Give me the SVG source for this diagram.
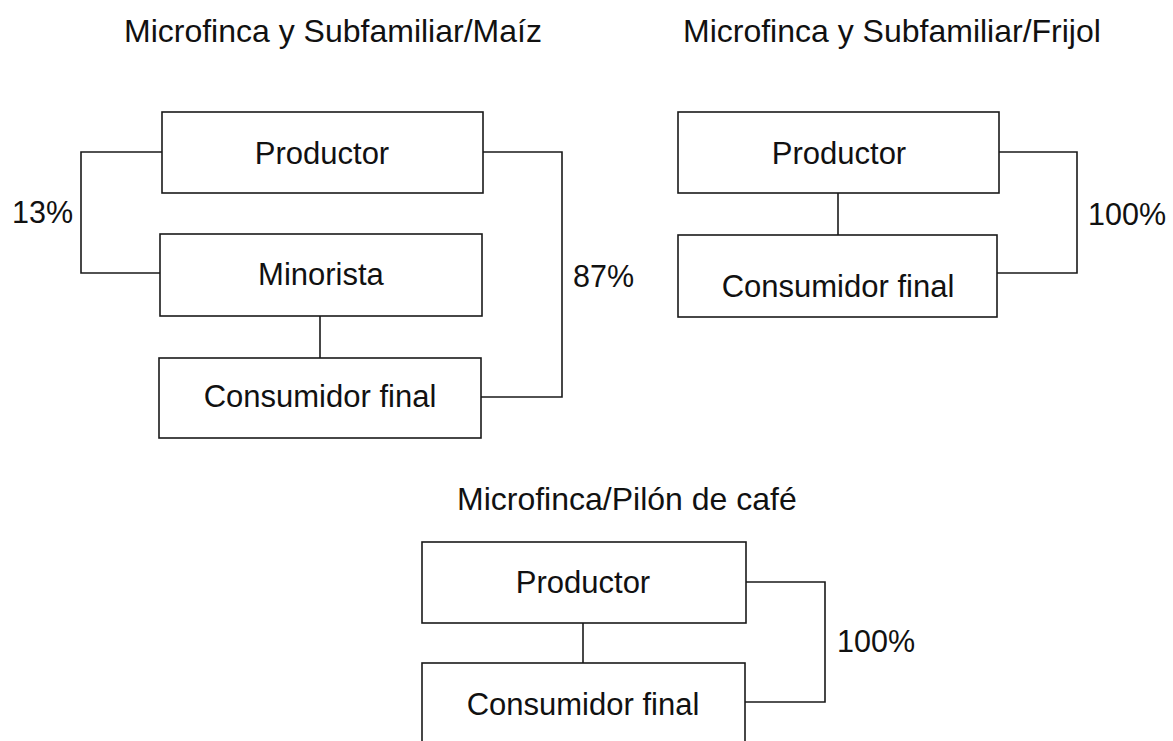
<svg xmlns="http://www.w3.org/2000/svg" width="1173" height="741" viewBox="0 0 1173 741">
<style>
.box{fill:#fff;stroke:#1a1a1a;stroke-width:1.6}
.conn{fill:none;stroke:#1a1a1a;stroke-width:1.6}
.t{font-family:"Liberation Sans",Arial,sans-serif;fill:#111}
.lbl{font-size:31px;text-anchor:middle}
.pct{font-size:30.5px}
.title{font-size:32px}
</style>
<rect width="1173" height="741" fill="#fff"/>
<g id="titles">
<text class="t title" x="124" y="42">Microfinca y Subfamiliar/Maíz</text>
<text class="t title" x="683" y="42">Microfinca y Subfamiliar/Frijol</text>
<text class="t title" x="457" y="510">Microfinca/Pilón de café</text>
</g>
<g id="connectors">
<polyline class="conn" points="162,152 81,152 81,273 160,273"/>
<polyline class="conn" points="483,152 562,152 562,397 481,397"/>
<line class="conn" x1="320" y1="316" x2="320" y2="358"/>
<polyline class="conn" points="999,152 1077,152 1077,273 997,273"/>
<line class="conn" x1="838" y1="193" x2="838" y2="235"/>
<polyline class="conn" points="746,582 825,582 825,702 745,702"/>
<line class="conn" x1="583" y1="623" x2="583" y2="663"/>
</g>
<g id="labels">
<text class="t pct" x="12" y="223">13%</text>
<text class="t pct" x="573" y="287">87%</text>
<text class="t pct" x="1088" y="225">100%</text>
<text class="t pct" x="837" y="652">100%</text>
</g>
<g id="maiz-productor">
<rect class="box" x="162" y="112" width="321" height="81"/>
<text class="t lbl" x="322" y="164">Productor</text>
</g>
<g id="maiz-minorista">
<rect class="box" x="160" y="234" width="322" height="82"/>
<text class="t lbl" x="321" y="285">Minorista</text>
</g>
<g id="maiz-consumidor">
<rect class="box" x="159" y="358" width="322" height="80"/>
<text class="t lbl" x="320" y="407">Consumidor final</text>
</g>
<g id="frijol-productor">
<rect class="box" x="678" y="112" width="321" height="81"/>
<text class="t lbl" x="839" y="164">Productor</text>
</g>
<g id="frijol-consumidor">
<rect class="box" x="678" y="235" width="319" height="82"/>
<text class="t lbl" x="838" y="297">Consumidor final</text>
</g>
<g id="cafe-productor">
<rect class="box" x="422" y="542" width="324" height="81"/>
<text class="t lbl" x="583" y="593">Productor</text>
</g>
<g id="cafe-consumidor">
<rect class="box" x="422" y="663" width="323" height="90"/>
<text class="t lbl" x="583" y="715">Consumidor final</text>
</g>
</svg>
